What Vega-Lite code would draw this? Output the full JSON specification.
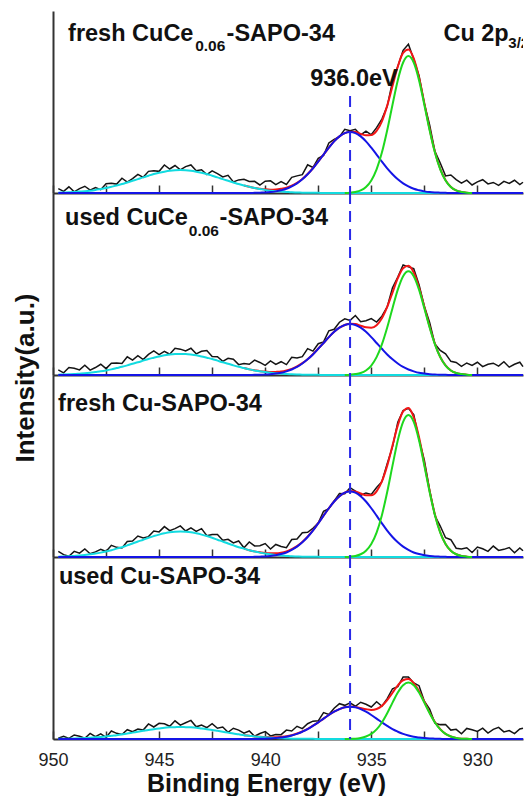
{
"$schema": "https://vega.github.io/schema/vega-lite/v6.json",
"padding": {"left": 12, "top": 11, "right": 0, "bottom": 0},
"background": "white",
"spacing": 0,
"bounds": "flush",
"config": {
 "view": {"stroke": null},
 "font": "Liberation Sans",
 "axisX": {"domainColor": "#333333", "domainWidth": 2, "tickColor": "#333333", "tickWidth": 1.5, "tickSize": -8, "grid": false, "labelFlush": false},
 "axisY": {"domainColor": "#333333", "domainWidth": 2, "ticks": false, "labels": false, "grid": false},
 "text": {"font": "Liberation Sans", "fontWeight": "bold", "fontSize": 23.5, "align": "left", "baseline": "alphabetic", "color": "#111111"}
},
"datasets": {
"p1": [
{"x":949.75,"raw":0.024,"c":0.002,"b":0},{"x":949.5,"raw":0.009,"c":0.003,"b":0},{"x":949.25,"raw":0.034,"c":0.004,"b":0},{"x":949.0,"raw":0.006,"c":0.006,"b":0},{"x":948.75,"raw":0.024,"c":0.008,"b":0},{"x":948.5,"raw":0.037,"c":0.010,"b":0},{"x":948.25,"raw":0.016,"c":0.013,"b":0},{"x":948.0,"raw":0.030,"c":0.017,"b":0},{"x":947.75,"raw":0.018,"c":0.022,"b":0},{"x":947.5,"raw":0.051,"c":0.027,"b":0},{"x":947.25,"raw":0.053,"c":0.034,"b":0},{"x":947.0,"raw":0.049,"c":0.041,"b":0},{"x":946.75,"raw":0.081,"c":0.049,"b":0},{"x":946.5,"raw":0.060,"c":0.058,"b":0},{"x":946.25,"raw":0.079,"c":0.067,"b":0},{"x":946.0,"raw":0.102,"c":0.076,"b":0},{"x":945.75,"raw":0.086,"c":0.086,"b":0},{"x":945.5,"raw":0.119,"c":0.095,"b":0},{"x":945.25,"raw":0.122,"c":0.104,"b":0},{"x":945.0,"raw":0.119,"c":0.111,"b":0},{"x":944.75,"raw":0.154,"c":0.117,"b":0},{"x":944.5,"raw":0.132,"c":0.122,"b":0},{"x":944.25,"raw":0.151,"c":0.125,"b":0},{"x":944.0,"raw":0.127,"c":0.126,"b":0},{"x":943.75,"raw":0.145,"c":0.125,"b":0},{"x":943.5,"raw":0.154,"c":0.122,"b":0},{"x":943.25,"raw":0.122,"c":0.117,"b":0},{"x":943.0,"raw":0.128,"c":0.111,"b":0},{"x":942.75,"raw":0.101,"c":0.104,"b":0},{"x":942.5,"raw":0.122,"c":0.095,"b":0},{"x":942.25,"raw":0.107,"c":0.086,"b":0},{"x":942.0,"raw":0.088,"c":0.076,"b":0},{"x":941.75,"raw":0.097,"c":0.067,"b":0},{"x":941.5,"raw":0.061,"c":0.058,"b":0},{"x":941.25,"raw":0.072,"c":0.049,"b":0},
{"x":941.0,"raw":0.075,"c":0.041,"b":0,"r":0.041},{"x":940.75,"raw":0.063,"c":0.034,"b":0,"r":0.034},{"x":940.5,"raw":0.064,"c":0.027,"b":0.001,"r":0.028},{"x":940.25,"raw":0.044,"c":0.022,"b":0.002,"r":0.024},{"x":940.0,"raw":0.065,"c":0.017,"b":0.003,"r":0.020},{"x":939.75,"raw":0.067,"c":0.013,"b":0.005,"r":0.018},{"x":939.5,"raw":0.046,"c":0.010,"b":0.009,"r":0.019},{"x":939.25,"raw":0.063,"c":0.008,"b":0.015,"r":0.023},{"x":939.0,"raw":0.047,"c":0.006,"b":0.023,"r":0.029},{"x":938.75,"raw":0.086,"c":0.004,"b":0.036,"r":0.040},{"x":938.5,"raw":0.094,"c":0.003,"b":0.053,"r":0.056},{"x":938.25,"raw":0.101,"c":0.002,"b":0.075,"r":0.077},{"x":938.0,"raw":0.155,"c":0.001,"b":0.103,"r":0.104},{"x":937.75,"raw":0.140,"c":0.001,"b":0.135,"r":0.136},{"x":937.5,"raw":0.190,"c":0.001,"b":0.172,"r":0.173},{"x":937.25,"raw":0.206,"c":0,"b":0.211,"r":0.211},{"x":937.0,"raw":0.275,"c":0,"b":0.249,"r":0.249},{"x":936.75,"raw":0.295,"c":0,"b":0.284,"r":0.285},{"x":936.5,"raw":0.310,"c":0,"b":0.311,"r":0.311},
{"x":936.25,"raw":0.350,"c":0,"b":0.329,"g":0,"r":0.329},{"x":936.0,"raw":0.342,"c":0,"b":0.335,"g":0.002,"r":0.337},{"x":935.75,"raw":0.350,"c":0,"b":0.329,"g":0.006,"r":0.335},{"x":935.5,"raw":0.319,"c":0,"b":0.311,"g":0.014,"r":0.325},{"x":935.25,"raw":0.340,"c":0,"b":0.284,"g":0.033,"r":0.317},{"x":935.0,"raw":0.320,"c":0,"b":0.249,"g":0.069,"r":0.318},{"x":934.75,"raw":0.359,"c":0,"b":0.211,"g":0.130,"r":0.341},{"x":934.5,"raw":0.406,"c":0,"b":0.172,"g":0.222,"r":0.394},{"x":934.25,"raw":0.476,"c":0,"b":0.135,"g":0.345,"r":0.480},{"x":934.0,"raw":0.613,"c":0,"b":0.103,"g":0.485,"r":0.588},{"x":933.75,"raw":0.695,"c":0,"b":0.075,"g":0.620,"r":0.695},{"x":933.5,"raw":0.784,"c":0,"b":0.053,"g":0.717,"r":0.770},{"x":933.25,"raw":0.817,"c":0,"b":0.036,"g":0.753,"r":0.789},{"x":933.0,"raw":0.735,"c":0,"b":0.023,"g":0.717,"r":0.740},{"x":932.75,"raw":0.644,"c":0,"b":0.015,"g":0.620,"r":0.635},{"x":932.5,"raw":0.492,"c":0,"b":0.009,"g":0.485,"r":0.494},{"x":932.25,"raw":0.374,"c":0,"b":0.005,"g":0.345,"r":0.350},{"x":932.0,"raw":0.229,"c":0,"b":0.003,"g":0.222,"r":0.225},{"x":931.75,"raw":0.165,"c":0,"b":0.002,"g":0.130,"r":0.132},{"x":931.5,"raw":0.094,"c":0,"b":0.001,"g":0.069,"r":0.070},{"x":931.25,"raw":0.099,"c":0,"b":0,"g":0.033,"r":0.033},{"x":931.0,"raw":0.074,"c":0,"b":0,"g":0.014,"r":0.014},{"x":930.75,"raw":0.054,"c":0,"b":0,"g":0.006,"r":0.006},{"x":930.5,"raw":0.071,"c":0,"b":0,"g":0.002,"r":0.002},{"x":930.25,"raw":0.044,"c":0,"b":0,"g":0,"r":0},
{"x":930.0,"raw":0.061,"c":0,"b":0},{"x":929.75,"raw":0.073,"c":0,"b":0},{"x":929.5,"raw":0.050,"c":0,"b":0},{"x":929.25,"raw":0.058,"c":0,"b":0},{"x":929.0,"raw":0.042,"c":0,"b":0},{"x":928.75,"raw":0.064,"c":0,"b":0},{"x":928.5,"raw":0.053,"c":0,"b":0},{"x":928.25,"raw":0.070,"c":0,"b":0},{"x":928.0,"raw":0.046,"c":0,"b":0},{"x":927.85,"raw":0.059,"c":0,"b":0}
],
"p2": [
{"x":949.75,"raw":0.028,"c":0.002,"b":0},{"x":949.5,"raw":0.012,"c":0.003,"b":0},{"x":949.25,"raw":0.041,"c":0.004,"b":0},{"x":949.0,"raw":0.037,"c":0.005,"b":0},{"x":948.75,"raw":0.028,"c":0.007,"b":0},{"x":948.5,"raw":0.054,"c":0.009,"b":0},{"x":948.25,"raw":0.027,"c":0.012,"b":0},{"x":948.0,"raw":0.041,"c":0.016,"b":0},{"x":947.75,"raw":0.059,"c":0.020,"b":0},{"x":947.5,"raw":0.035,"c":0.025,"b":0},{"x":947.25,"raw":0.065,"c":0.031,"b":0},{"x":947.0,"raw":0.066,"c":0.038,"b":0},{"x":946.75,"raw":0.063,"c":0.045,"b":0},{"x":946.5,"raw":0.100,"c":0.053,"b":0},{"x":946.25,"raw":0.082,"c":0.062,"b":0},{"x":946.0,"raw":0.106,"c":0.070,"b":0},{"x":945.75,"raw":0.085,"c":0.079,"b":0},{"x":945.5,"raw":0.113,"c":0.088,"b":0},{"x":945.25,"raw":0.132,"c":0.095,"b":0},{"x":945.0,"raw":0.112,"c":0.102,"b":0},{"x":944.75,"raw":0.130,"c":0.108,"b":0},{"x":944.5,"raw":0.114,"c":0.112,"b":0},{"x":944.25,"raw":0.147,"c":0.115,"b":0},{"x":944.0,"raw":0.142,"c":0.116,"b":0},{"x":943.75,"raw":0.132,"c":0.115,"b":0},{"x":943.5,"raw":0.147,"c":0.112,"b":0},{"x":943.25,"raw":0.116,"c":0.108,"b":0},{"x":943.0,"raw":0.130,"c":0.102,"b":0},{"x":942.75,"raw":0.134,"c":0.095,"b":0},{"x":942.5,"raw":0.102,"c":0.088,"b":0},{"x":942.25,"raw":0.100,"c":0.079,"b":0},{"x":942.0,"raw":0.075,"c":0.070,"b":0},{"x":941.75,"raw":0.092,"c":0.062,"b":0},{"x":941.5,"raw":0.087,"c":0.053,"b":0},{"x":941.25,"raw":0.057,"c":0.045,"b":0},
{"x":941.0,"raw":0.063,"c":0.038,"b":0,"r":0.038},{"x":940.75,"raw":0.059,"c":0.031,"b":0,"r":0.031},{"x":940.5,"raw":0.082,"c":0.025,"b":0.001,"r":0.026},{"x":940.25,"raw":0.069,"c":0.020,"b":0.001,"r":0.021},{"x":940.0,"raw":0.053,"c":0.016,"b":0.003,"r":0.019},{"x":939.75,"raw":0.077,"c":0.012,"b":0.004,"r":0.016},{"x":939.5,"raw":0.058,"c":0.009,"b":0.008,"r":0.017},{"x":939.25,"raw":0.073,"c":0.007,"b":0.012,"r":0.019},{"x":939.0,"raw":0.057,"c":0.005,"b":0.020,"r":0.025},{"x":938.75,"raw":0.097,"c":0.004,"b":0.030,"r":0.034},{"x":938.5,"raw":0.094,"c":0.003,"b":0.044,"r":0.047},{"x":938.25,"raw":0.101,"c":0.002,"b":0.063,"r":0.065},{"x":938.0,"raw":0.145,"c":0.001,"b":0.086,"r":0.087},{"x":937.75,"raw":0.131,"c":0.001,"b":0.113,"r":0.114},{"x":937.5,"raw":0.172,"c":0.001,"b":0.144,"r":0.145},{"x":937.25,"raw":0.182,"c":0,"b":0.176,"r":0.176},{"x":937.0,"raw":0.243,"c":0,"b":0.208,"r":0.208},{"x":936.75,"raw":0.251,"c":0,"b":0.237,"r":0.237},{"x":936.5,"raw":0.290,"c":0,"b":0.260,"r":0.260},
{"x":936.25,"raw":0.309,"c":0,"b":0.275,"g":0,"r":0.275},{"x":936.0,"raw":0.300,"c":0,"b":0.280,"g":0.002,"r":0.282},{"x":935.75,"raw":0.327,"c":0,"b":0.275,"g":0.005,"r":0.280},{"x":935.5,"raw":0.293,"c":0,"b":0.260,"g":0.011,"r":0.271},{"x":935.25,"raw":0.298,"c":0,"b":0.237,"g":0.025,"r":0.262},{"x":935.0,"raw":0.310,"c":0,"b":0.208,"g":0.052,"r":0.260},{"x":934.75,"raw":0.291,"c":0,"b":0.176,"g":0.098,"r":0.274},{"x":934.5,"raw":0.323,"c":0,"b":0.144,"g":0.168,"r":0.312},{"x":934.25,"raw":0.374,"c":0,"b":0.113,"g":0.261,"r":0.374},{"x":934.0,"raw":0.479,"c":0,"b":0.086,"g":0.367,"r":0.453},{"x":933.75,"raw":0.538,"c":0,"b":0.063,"g":0.469,"r":0.532},{"x":933.5,"raw":0.605,"c":0,"b":0.044,"g":0.543,"r":0.587},{"x":933.25,"raw":0.594,"c":0,"b":0.030,"g":0.570,"r":0.600},{"x":933.0,"raw":0.584,"c":0,"b":0.020,"g":0.543,"r":0.563},{"x":932.75,"raw":0.496,"c":0,"b":0.012,"g":0.469,"r":0.481},{"x":932.5,"raw":0.378,"c":0,"b":0.008,"g":0.367,"r":0.375},{"x":932.25,"raw":0.289,"c":0,"b":0.004,"g":0.261,"r":0.265},{"x":932.0,"raw":0.170,"c":0,"b":0.003,"g":0.168,"r":0.171},{"x":931.75,"raw":0.135,"c":0,"b":0.001,"g":0.098,"r":0.099},{"x":931.5,"raw":0.116,"c":0,"b":0.001,"g":0.052,"r":0.053},{"x":931.25,"raw":0.075,"c":0,"b":0,"g":0.025,"r":0.025},{"x":931.0,"raw":0.069,"c":0,"b":0,"g":0.011,"r":0.011},{"x":930.75,"raw":0.047,"c":0,"b":0,"g":0.005,"r":0.005},{"x":930.5,"raw":0.066,"c":0,"b":0,"g":0.002,"r":0.002},{"x":930.25,"raw":0.053,"c":0,"b":0,"g":0,"r":0},
{"x":930.0,"raw":0.070,"c":0,"b":0},{"x":929.75,"raw":0.046,"c":0,"b":0},{"x":929.5,"raw":0.059,"c":0,"b":0},{"x":929.25,"raw":0.065,"c":0,"b":0},{"x":929.0,"raw":0.049,"c":0,"b":0},{"x":928.75,"raw":0.073,"c":0,"b":0},{"x":928.5,"raw":0.043,"c":0,"b":0},{"x":928.25,"raw":0.059,"c":0,"b":0},{"x":928.0,"raw":0.070,"c":0,"b":0},{"x":927.85,"raw":0.046,"c":0,"b":0}
],
"p3": [
{"x":949.75,"raw":0.031,"c":0.002,"b":0},{"x":949.5,"raw":0.013,"c":0.003,"b":0},{"x":949.25,"raw":0.004,"c":0.004,"b":0},{"x":949.0,"raw":0.031,"c":0.006,"b":0},{"x":948.75,"raw":0.021,"c":0.008,"b":0},{"x":948.5,"raw":0.044,"c":0.011,"b":0},{"x":948.25,"raw":0.018,"c":0.015,"b":0},{"x":948.0,"raw":0.028,"c":0.019,"b":0},{"x":947.75,"raw":0.042,"c":0.024,"b":0},{"x":947.5,"raw":0.030,"c":0.030,"b":0},{"x":947.25,"raw":0.064,"c":0.037,"b":0},{"x":947.0,"raw":0.053,"c":0.046,"b":0},{"x":946.75,"raw":0.050,"c":0.054,"b":0},{"x":946.5,"raw":0.085,"c":0.064,"b":0},{"x":946.25,"raw":0.088,"c":0.074,"b":0},{"x":946.0,"raw":0.115,"c":0.085,"b":0},{"x":945.75,"raw":0.105,"c":0.095,"b":0},{"x":945.5,"raw":0.112,"c":0.106,"b":0},{"x":945.25,"raw":0.143,"c":0.115,"b":0},{"x":945.0,"raw":0.138,"c":0.123,"b":0},{"x":944.75,"raw":0.167,"c":0.130,"b":0},{"x":944.5,"raw":0.145,"c":0.136,"b":0},{"x":944.25,"raw":0.156,"c":0.139,"b":0},{"x":944.0,"raw":0.171,"c":0.140,"b":0},{"x":943.75,"raw":0.143,"c":0.139,"b":0},{"x":943.5,"raw":0.160,"c":0.136,"b":0},{"x":943.25,"raw":0.141,"c":0.130,"b":0},{"x":943.0,"raw":0.156,"c":0.123,"b":0},{"x":942.75,"raw":0.117,"c":0.115,"b":0},{"x":942.5,"raw":0.124,"c":0.106,"b":0},{"x":942.25,"raw":0.124,"c":0.095,"b":0},{"x":942.0,"raw":0.092,"c":0.085,"b":0},{"x":941.75,"raw":0.097,"c":0.074,"b":0},{"x":941.5,"raw":0.077,"c":0.064,"b":0},{"x":941.25,"raw":0.088,"c":0.054,"b":0},
{"x":941.0,"raw":0.051,"c":0.046,"b":0,"r":0.046},{"x":940.75,"raw":0.083,"c":0.037,"b":0,"r":0.037},{"x":940.5,"raw":0.061,"c":0.030,"b":0.001,"r":0.031},{"x":940.25,"raw":0.062,"c":0.024,"b":0.002,"r":0.026},{"x":940.0,"raw":0.074,"c":0.019,"b":0.003,"r":0.022},{"x":939.75,"raw":0.044,"c":0.015,"b":0.006,"r":0.021},{"x":939.5,"raw":0.069,"c":0.011,"b":0.010,"r":0.021},{"x":939.25,"raw":0.058,"c":0.008,"b":0.016,"r":0.024},{"x":939.0,"raw":0.051,"c":0.006,"b":0.025,"r":0.031},{"x":938.75,"raw":0.096,"c":0.004,"b":0.039,"r":0.043},{"x":938.5,"raw":0.099,"c":0.003,"b":0.057,"r":0.060},{"x":938.25,"raw":0.133,"c":0.002,"b":0.081,"r":0.083},{"x":938.0,"raw":0.136,"c":0.002,"b":0.110,"r":0.112},{"x":937.75,"raw":0.158,"c":0.001,"b":0.145,"r":0.146},{"x":937.5,"raw":0.186,"c":0.001,"b":0.185,"r":0.186},{"x":937.25,"raw":0.251,"c":0,"b":0.227,"r":0.227},{"x":937.0,"raw":0.265,"c":0,"b":0.268,"r":0.268},{"x":936.75,"raw":0.308,"c":0,"b":0.305,"r":0.305},{"x":936.5,"raw":0.349,"c":0,"b":0.334,"r":0.334},
{"x":936.25,"raw":0.348,"c":0,"b":0.354,"g":0,"r":0.354},{"x":936.0,"raw":0.381,"c":0,"b":0.360,"g":0.002,"r":0.362},{"x":935.75,"raw":0.362,"c":0,"b":0.354,"g":0.006,"r":0.360},{"x":935.5,"raw":0.339,"c":0,"b":0.334,"g":0.015,"r":0.349},{"x":935.25,"raw":0.352,"c":0,"b":0.305,"g":0.034,"r":0.339},{"x":935.0,"raw":0.344,"c":0,"b":0.268,"g":0.071,"r":0.339},{"x":934.75,"raw":0.382,"c":0,"b":0.227,"g":0.134,"r":0.361},{"x":934.5,"raw":0.414,"c":0,"b":0.185,"g":0.230,"r":0.415},{"x":934.25,"raw":0.512,"c":0,"b":0.145,"g":0.357,"r":0.502},{"x":934.0,"raw":0.605,"c":0,"b":0.110,"g":0.502,"r":0.612},{"x":933.75,"raw":0.740,"c":0,"b":0.081,"g":0.642,"r":0.723},{"x":933.5,"raw":0.804,"c":0,"b":0.057,"g":0.743,"r":0.800},{"x":933.25,"raw":0.817,"c":0,"b":0.039,"g":0.780,"r":0.819},{"x":933.0,"raw":0.782,"c":0,"b":0.025,"g":0.743,"r":0.768},{"x":932.75,"raw":0.648,"c":0,"b":0.016,"g":0.642,"r":0.658},{"x":932.5,"raw":0.532,"c":0,"b":0.010,"g":0.502,"r":0.512},{"x":932.25,"raw":0.367,"c":0,"b":0.006,"g":0.357,"r":0.363},{"x":932.0,"raw":0.226,"c":0,"b":0.003,"g":0.230,"r":0.233},{"x":931.75,"raw":0.170,"c":0,"b":0.002,"g":0.134,"r":0.136},{"x":931.5,"raw":0.106,"c":0,"b":0.001,"g":0.071,"r":0.072},{"x":931.25,"raw":0.095,"c":0,"b":0,"g":0.034,"r":0.034},{"x":931.0,"raw":0.048,"c":0,"b":0,"g":0.015,"r":0.015},{"x":930.75,"raw":0.044,"c":0,"b":0,"g":0.006,"r":0.006},{"x":930.5,"raw":0.051,"c":0,"b":0,"g":0.002,"r":0.002},{"x":930.25,"raw":0.025,"c":0,"b":0,"g":0,"r":0},
{"x":930.0,"raw":0.055,"c":0,"b":0},{"x":929.75,"raw":0.045,"c":0,"b":0},{"x":929.5,"raw":0.031,"c":0,"b":0},{"x":929.25,"raw":0.060,"c":0,"b":0},{"x":929.0,"raw":0.036,"c":0,"b":0},{"x":928.75,"raw":0.042,"c":0,"b":0},{"x":928.5,"raw":0.052,"c":0,"b":0},{"x":928.25,"raw":0.023,"c":0,"b":0},{"x":928.0,"raw":0.050,"c":0,"b":0},{"x":927.85,"raw":0.034,"c":0,"b":0}
],
"p4": [
{"x":949.75,"raw":0.004,"c":0.001,"b":0},{"x":949.5,"raw":0.015,"c":0.002,"b":0},{"x":949.25,"raw":0.003,"c":0.002,"b":0},{"x":949.0,"raw":0.022,"c":0.003,"b":0},{"x":948.75,"raw":0.015,"c":0.004,"b":0},{"x":948.5,"raw":0.004,"c":0.005,"b":0},{"x":948.25,"raw":0.031,"c":0.007,"b":0},{"x":948.0,"raw":0.013,"c":0.009,"b":0},{"x":947.75,"raw":0.028,"c":0.011,"b":0},{"x":947.5,"raw":0.009,"c":0.014,"b":0},{"x":947.25,"raw":0.044,"c":0.018,"b":0},{"x":947.0,"raw":0.031,"c":0.021,"b":0},{"x":946.75,"raw":0.025,"c":0.026,"b":0},{"x":946.5,"raw":0.051,"c":0.030,"b":0},{"x":946.25,"raw":0.040,"c":0.035,"b":0},{"x":946.0,"raw":0.055,"c":0.040,"b":0},{"x":945.75,"raw":0.049,"c":0.045,"b":0},{"x":945.5,"raw":0.083,"c":0.050,"b":0},{"x":945.25,"raw":0.066,"c":0.054,"b":0},{"x":945.0,"raw":0.086,"c":0.058,"b":0},{"x":944.75,"raw":0.084,"c":0.062,"b":0},{"x":944.5,"raw":0.070,"c":0.064,"b":0},{"x":944.25,"raw":0.100,"c":0.065,"b":0},{"x":944.0,"raw":0.076,"c":0.066,"b":0},{"x":943.75,"raw":0.089,"c":0.065,"b":0},{"x":943.5,"raw":0.102,"c":0.064,"b":0},{"x":943.25,"raw":0.067,"c":0.062,"b":0},{"x":943.0,"raw":0.077,"c":0.058,"b":0},{"x":942.75,"raw":0.062,"c":0.054,"b":0},{"x":942.5,"raw":0.084,"c":0.050,"b":0},{"x":942.25,"raw":0.059,"c":0.045,"b":0},{"x":942.0,"raw":0.066,"c":0.040,"b":0},{"x":941.75,"raw":0.037,"c":0.035,"b":0},{"x":941.5,"raw":0.059,"c":0.030,"b":0},{"x":941.25,"raw":0.049,"c":0.026,"b":0},
{"x":941.0,"raw":0.032,"c":0.021,"b":0,"r":0.021},{"x":940.75,"raw":0.044,"c":0.018,"b":0,"r":0.018},{"x":940.5,"raw":0.015,"c":0.014,"b":0,"r":0.014},{"x":940.25,"raw":0.030,"c":0.011,"b":0.001,"r":0.012},{"x":940.0,"raw":0.041,"c":0.009,"b":0.002,"r":0.011},{"x":939.75,"raw":0.017,"c":0.007,"b":0.003,"r":0.010},{"x":939.5,"raw":0.025,"c":0.005,"b":0.005,"r":0.010},{"x":939.25,"raw":0.024,"c":0.004,"b":0.008,"r":0.012},{"x":939.0,"raw":0.049,"c":0.003,"b":0.012,"r":0.015},{"x":938.75,"raw":0.044,"c":0.002,"b":0.019,"r":0.021},{"x":938.5,"raw":0.070,"c":0.002,"b":0.028,"r":0.030},{"x":938.25,"raw":0.057,"c":0.001,"b":0.040,"r":0.041},{"x":938.0,"raw":0.084,"c":0.001,"b":0.054,"r":0.055},{"x":937.75,"raw":0.098,"c":0.001,"b":0.072,"r":0.073},{"x":937.5,"raw":0.100,"c":0,"b":0.091,"r":0.091},{"x":937.25,"raw":0.145,"c":0,"b":0.112,"r":0.112},{"x":937.0,"raw":0.135,"c":0,"b":0.132,"r":0.132},{"x":936.75,"raw":0.169,"c":0,"b":0.150,"r":0.150},{"x":936.5,"raw":0.194,"c":0,"b":0.164,"r":0.164},
{"x":936.25,"raw":0.185,"c":0,"b":0.174,"g":0,"r":0.174},{"x":936.0,"raw":0.199,"c":0,"b":0.177,"g":0.001,"r":0.178},{"x":935.75,"raw":0.180,"c":0,"b":0.174,"g":0.002,"r":0.176},{"x":935.5,"raw":0.202,"c":0,"b":0.164,"g":0.006,"r":0.170},{"x":935.25,"raw":0.191,"c":0,"b":0.150,"g":0.014,"r":0.164},{"x":935.0,"raw":0.176,"c":0,"b":0.132,"g":0.028,"r":0.160},{"x":934.75,"raw":0.205,"c":0,"b":0.112,"g":0.053,"r":0.165},{"x":934.5,"raw":0.180,"c":0,"b":0.091,"g":0.091,"r":0.182},{"x":934.25,"raw":0.222,"c":0,"b":0.072,"g":0.142,"r":0.214},{"x":934.0,"raw":0.276,"c":0,"b":0.054,"g":0.200,"r":0.254},{"x":933.75,"raw":0.288,"c":0,"b":0.040,"g":0.255,"r":0.295},{"x":933.5,"raw":0.340,"c":0,"b":0.028,"g":0.295,"r":0.323},{"x":933.25,"raw":0.340,"c":0,"b":0.019,"g":0.310,"r":0.329},{"x":933.0,"raw":0.308,"c":0,"b":0.012,"g":0.295,"r":0.307},{"x":932.75,"raw":0.293,"c":0,"b":0.008,"g":0.255,"r":0.263},{"x":932.5,"raw":0.208,"c":0,"b":0.005,"g":0.200,"r":0.205},{"x":932.25,"raw":0.164,"c":0,"b":0.003,"g":0.142,"r":0.145},{"x":932.0,"raw":0.087,"c":0,"b":0.002,"g":0.091,"r":0.093},{"x":931.75,"raw":0.079,"c":0,"b":0.001,"g":0.053,"r":0.054},{"x":931.5,"raw":0.080,"c":0,"b":0,"g":0.028,"r":0.028},{"x":931.25,"raw":0.049,"c":0,"b":0,"g":0.014,"r":0.014},{"x":931.0,"raw":0.053,"c":0,"b":0,"g":0.006,"r":0.006},{"x":930.75,"raw":0.029,"c":0,"b":0,"g":0.002,"r":0.002},{"x":930.5,"raw":0.058,"c":0,"b":0,"g":0.001,"r":0.001},{"x":930.25,"raw":0.051,"c":0,"b":0,"g":0,"r":0},
{"x":930.0,"raw":0.042,"c":0,"b":0},{"x":929.75,"raw":0.060,"c":0,"b":0},{"x":929.5,"raw":0.033,"c":0,"b":0},{"x":929.25,"raw":0.053,"c":0,"b":0},{"x":929.0,"raw":0.064,"c":0,"b":0},{"x":928.75,"raw":0.039,"c":0,"b":0},{"x":928.5,"raw":0.046,"c":0,"b":0},{"x":928.25,"raw":0.030,"c":0,"b":0},{"x":928.0,"raw":0.055,"c":0,"b":0},{"x":927.85,"raw":0.059,"c":0,"b":0}
]
},
"vconcat": [
{
 "width": 470, "height": 182,
 "data": {"name": "p1"},
 "layer": [
  {"mark": {"type": "line", "color": "#141414", "strokeWidth": 1.5},
   "encoding": {
    "x": {"field": "x", "type": "quantitative", "scale": {"domain": [927.85, 950], "reverse": true, "nice": false, "zero": false}, "axis": {"values": [950, 947.5, 945, 942.5, 940, 937.5, 935, 932.5, 930], "labels": false, "title": null}},
    "y": {"field": "raw", "type": "quantitative", "scale": {"domain": [0, 1], "nice": false, "zero": false}, "axis": {"title": null}}}},
  {"mark": {"type": "line", "color": "#f21616", "strokeWidth": 2, "interpolate": "monotone"}, "encoding": {"x": {"field": "x", "type": "quantitative"}, "y": {"field": "r", "type": "quantitative"}}},
  {"mark": {"type": "line", "color": "#12dbe0", "strokeWidth": 2, "interpolate": "monotone"}, "encoding": {"x": {"field": "x", "type": "quantitative"}, "y": {"field": "c", "type": "quantitative"}}},
  {"mark": {"type": "line", "color": "#1414e6", "strokeWidth": 2, "interpolate": "monotone"}, "encoding": {"x": {"field": "x", "type": "quantitative"}, "y": {"field": "b", "type": "quantitative"}}},
  {"mark": {"type": "line", "color": "#1ed81e", "strokeWidth": 2, "interpolate": "monotone"}, "encoding": {"x": {"field": "x", "type": "quantitative"}, "y": {"field": "g", "type": "quantitative"}}},
  {"data": {"values": [{}]}, "mark": {"type": "rule", "color": "#2828e8", "strokeWidth": 2, "strokeDash": [11, 7]}, "encoding": {"x": {"datum": 936.0, "type": "quantitative"}, "y": {"datum": 0.533, "type": "quantitative"}, "y2": {"datum": 0}}},
  {"data": {"values": [{}]}, "mark": {"type": "text", "text": "fresh CuCe"}, "encoding": {"x": {"datum": 949.29, "type": "quantitative"}, "y": {"datum": 0.835, "type": "quantitative"}}},
  {"data": {"values": [{}]}, "mark": {"type": "text", "text": "0.06", "fontSize": 15.5}, "encoding": {"x": {"datum": 943.3, "type": "quantitative"}, "y": {"datum": 0.78, "type": "quantitative"}}},
  {"data": {"values": [{}]}, "mark": {"type": "text", "text": "-SAPO-34"}, "encoding": {"x": {"datum": 941.82, "type": "quantitative"}, "y": {"datum": 0.835, "type": "quantitative"}}},
  {"data": {"values": [{}]}, "mark": {"type": "text", "text": "936.0eV"}, "encoding": {"x": {"datum": 937.88, "type": "quantitative"}, "y": {"datum": 0.588, "type": "quantitative"}}},
  {"data": {"values": [{}]}, "mark": {"type": "text", "text": "Cu 2p"}, "encoding": {"x": {"datum": 931.6, "type": "quantitative"}, "y": {"datum": 0.835, "type": "quantitative"}}},
  {"data": {"values": [{}]}, "mark": {"type": "text", "text": "3/2", "fontSize": 15, "clip": true}, "encoding": {"x": {"datum": 928.54, "type": "quantitative"}, "y": {"datum": 0.795, "type": "quantitative"}}}
 ]
},
{
 "width": 470, "height": 182,
 "data": {"name": "p2"},
 "layer": [
  {"mark": {"type": "line", "color": "#141414", "strokeWidth": 1.5},
   "encoding": {
    "x": {"field": "x", "type": "quantitative", "scale": {"domain": [927.85, 950], "reverse": true, "nice": false, "zero": false}, "axis": {"values": [950, 947.5, 945, 942.5, 940, 937.5, 935, 932.5, 930], "labels": false, "title": null}},
    "y": {"field": "raw", "type": "quantitative", "scale": {"domain": [0, 1], "nice": false, "zero": false}, "axis": {"title": "Intensity(a.u.)", "titleFont": "Liberation Sans", "titleFontSize": 26, "titleFontWeight": "bold", "titleColor": "#111111", "titleX": -20, "titleY": 184.5, "titleBaseline": "alphabetic", "titleAngle": -90, "titleAlign": "center"}}}},
  {"mark": {"type": "line", "color": "#f21616", "strokeWidth": 2, "interpolate": "monotone"}, "encoding": {"x": {"field": "x", "type": "quantitative"}, "y": {"field": "r", "type": "quantitative"}}},
  {"mark": {"type": "line", "color": "#12dbe0", "strokeWidth": 2, "interpolate": "monotone"}, "encoding": {"x": {"field": "x", "type": "quantitative"}, "y": {"field": "c", "type": "quantitative"}}},
  {"mark": {"type": "line", "color": "#1414e6", "strokeWidth": 2, "interpolate": "monotone"}, "encoding": {"x": {"field": "x", "type": "quantitative"}, "y": {"field": "b", "type": "quantitative"}}},
  {"mark": {"type": "line", "color": "#1ed81e", "strokeWidth": 2, "interpolate": "monotone"}, "encoding": {"x": {"field": "x", "type": "quantitative"}, "y": {"field": "g", "type": "quantitative"}}},
  {"data": {"values": [{}]}, "mark": {"type": "rule", "color": "#2828e8", "strokeWidth": 2, "strokeDash": [11, 7]}, "encoding": {"x": {"datum": 936.0, "type": "quantitative"}, "y": {"datum": 1, "type": "quantitative"}, "y2": {"datum": 0}}},
  {"data": {"values": [{}]}, "mark": {"type": "text", "text": "used CuCe"}, "encoding": {"x": {"datum": 949.43, "type": "quantitative"}, "y": {"datum": 0.826, "type": "quantitative"}}},
  {"data": {"values": [{}]}, "mark": {"type": "text", "text": "0.06", "fontSize": 15.5}, "encoding": {"x": {"datum": 943.6, "type": "quantitative"}, "y": {"datum": 0.765, "type": "quantitative"}}},
  {"data": {"values": [{}]}, "mark": {"type": "text", "text": "-SAPO-34"}, "encoding": {"x": {"datum": 942.15, "type": "quantitative"}, "y": {"datum": 0.826, "type": "quantitative"}}}
 ]
},
{
 "width": 470, "height": 182,
 "data": {"name": "p3"},
 "layer": [
  {"mark": {"type": "line", "color": "#141414", "strokeWidth": 1.5},
   "encoding": {
    "x": {"field": "x", "type": "quantitative", "scale": {"domain": [927.85, 950], "reverse": true, "nice": false, "zero": false}, "axis": {"values": [950, 947.5, 945, 942.5, 940, 937.5, 935, 932.5, 930], "labels": false, "title": null}},
    "y": {"field": "raw", "type": "quantitative", "scale": {"domain": [0, 1], "nice": false, "zero": false}, "axis": {"title": null}}}},
  {"mark": {"type": "line", "color": "#f21616", "strokeWidth": 2, "interpolate": "monotone"}, "encoding": {"x": {"field": "x", "type": "quantitative"}, "y": {"field": "r", "type": "quantitative"}}},
  {"mark": {"type": "line", "color": "#12dbe0", "strokeWidth": 2, "interpolate": "monotone"}, "encoding": {"x": {"field": "x", "type": "quantitative"}, "y": {"field": "c", "type": "quantitative"}}},
  {"mark": {"type": "line", "color": "#1414e6", "strokeWidth": 2, "interpolate": "monotone"}, "encoding": {"x": {"field": "x", "type": "quantitative"}, "y": {"field": "b", "type": "quantitative"}}},
  {"mark": {"type": "line", "color": "#1ed81e", "strokeWidth": 2, "interpolate": "monotone"}, "encoding": {"x": {"field": "x", "type": "quantitative"}, "y": {"field": "g", "type": "quantitative"}}},
  {"data": {"values": [{}]}, "mark": {"type": "rule", "color": "#2828e8", "strokeWidth": 2, "strokeDash": [11, 7]}, "encoding": {"x": {"datum": 936.0, "type": "quantitative"}, "y": {"datum": 1, "type": "quantitative"}, "y2": {"datum": 0}}},
  {"data": {"values": [{}]}, "mark": {"type": "text", "text": "fresh Cu-SAPO-34"}, "encoding": {"x": {"datum": 949.76, "type": "quantitative"}, "y": {"datum": 0.8, "type": "quantitative"}}}
 ]
},
{
 "width": 470, "height": 182,
 "data": {"name": "p4"},
 "layer": [
  {"mark": {"type": "line", "color": "#141414", "strokeWidth": 1.5},
   "encoding": {
    "x": {"field": "x", "type": "quantitative", "scale": {"domain": [927.85, 950], "reverse": true, "nice": false, "zero": false}, "axis": {"values": [950, 947.5, 945, 942.5, 940, 937.5, 935, 932.5, 930], "labels": true, "labelExpr": "datum.value % 5 === 0 ? datum.label : ''", "labelFont": "Liberation Sans", "labelFontSize": 18, "labelColor": "#222222", "labelPadding": 20, "labelOverlap": false, "title": "Binding Energy (eV)", "titleFont": "Liberation Sans", "titleFontSize": 25, "titleFontWeight": "bold", "titleColor": "#111111", "titleX": 213, "titleY": 52, "titleBaseline": "alphabetic"}},
    "y": {"field": "raw", "type": "quantitative", "scale": {"domain": [0, 1], "nice": false, "zero": false}, "axis": {"title": null}}}},
  {"mark": {"type": "line", "color": "#f21616", "strokeWidth": 2, "interpolate": "monotone"}, "encoding": {"x": {"field": "x", "type": "quantitative"}, "y": {"field": "r", "type": "quantitative"}}},
  {"mark": {"type": "line", "color": "#12dbe0", "strokeWidth": 2, "interpolate": "monotone"}, "encoding": {"x": {"field": "x", "type": "quantitative"}, "y": {"field": "c", "type": "quantitative"}}},
  {"mark": {"type": "line", "color": "#1414e6", "strokeWidth": 2, "interpolate": "monotone"}, "encoding": {"x": {"field": "x", "type": "quantitative"}, "y": {"field": "b", "type": "quantitative"}}},
  {"mark": {"type": "line", "color": "#1ed81e", "strokeWidth": 2, "interpolate": "monotone"}, "encoding": {"x": {"field": "x", "type": "quantitative"}, "y": {"field": "g", "type": "quantitative"}}},
  {"data": {"values": [{}]}, "mark": {"type": "rule", "color": "#2828e8", "strokeWidth": 2, "strokeDash": [11, 7]}, "encoding": {"x": {"datum": 936.0, "type": "quantitative"}, "y": {"datum": 1, "type": "quantitative"}, "y2": {"datum": 0}}},
  {"data": {"values": [{}]}, "mark": {"type": "text", "text": "used Cu-SAPO-34"}, "encoding": {"x": {"datum": 949.72, "type": "quantitative"}, "y": {"datum": 0.85, "type": "quantitative"}}}
 ]
}
]
}
